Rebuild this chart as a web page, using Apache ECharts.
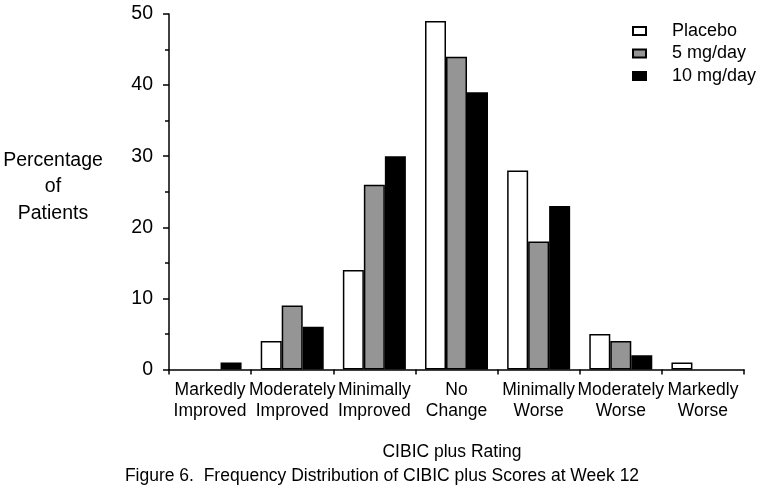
<!DOCTYPE html>
<html>
<head>
<meta charset="utf-8">
<script src="https://cdn.jsdelivr.net/npm/echarts@6/dist/echarts.min.js"></script>
<style>html,body{margin:0;padding:0;background:#fff}#c{width:761px;height:491px}</style>
</head>
<body>
<div id="c"></div>
<script>
var categories = ['Markedly Improved','Moderately Improved','Minimally Improved','No Change','Minimally Worse','Moderately Worse','Markedly Worse'];
var placebo = [0, 4, 14, 49, 28, 5, 1];
var mg5 = [0, 9, 26, 44, 18, 4, 0];
var mg10 = [1, 6, 30, 39, 23, 2, 0];
var yTicks = [0, 10, 20, 30, 40, 50];

var FONT = '"Liberation Sans", Arial, sans-serif';
var chart = echarts.init(document.getElementById('c'));
function ser(name, data, color) {
  return {
    name: name, type: 'bar', barWidth: 21, barGap: '0%',
    data: data.map(function (v) {
      return v === 0 ? { value: v, itemStyle: { borderWidth: 0 } } : v;
    }),
    itemStyle: { color: color, borderColor: '#000', borderWidth: 1.5 },
    animation: false
  };
}
chart.setOption({
  animation: false,
  backgroundColor: '#fff',
  textStyle: { fontFamily: FONT, color: '#000' },
  grid: { left: 169, right: 17, top: 14, bottom: 121.5, containLabel: false },
  legend: {
    orient: 'vertical', left: 632, top: 22, padding: 0, itemWidth: 13, itemHeight: 8, itemGap: 4.5,
    icon: 'rect',
    textStyle: { fontFamily: FONT, fontSize: 18, color: '#000', padding: [0, 0, 0, 21] },
    data: ['Placebo', '5 mg/day', '10 mg/day']
  },
  xAxis: {
    type: 'category', data: categories,
    axisLine: { lineStyle: { color: '#000', width: 1.5 } },
    axisTick: { show: true, interval: 0, length: 5, lineStyle: { color: '#000', width: 1.5 } },
    axisLabel: {
      interval: 0, margin: 10, fontFamily: FONT, fontSize: 17.5, color: '#000', lineHeight: 21,
      formatter: function (v) { return v.replace(' ', '\n'); }
    }
  },
  yAxis: {
    type: 'value', min: yTicks[0], max: yTicks[yTicks.length - 1], interval: 10,
    splitLine: { show: false },
    axisLine: { show: true, lineStyle: { color: '#000', width: 1.5 } },
    axisTick: { show: true, length: 6, lineStyle: { color: '#000', width: 1.5 } },
    minorTick: { show: true, splitNumber: 2, length: 4, lineStyle: { color: '#000', width: 1.5 } },
    axisLabel: { margin: 16, fontFamily: FONT, fontSize: 19.5, color: '#000' }
  },
  graphic: [
    { type: 'text', x: 53, y: 147, style: { text: 'Percentage\nof\nPatients', align: 'center', font: '19.5px ' + FONT, fill: '#000', lineHeight: 26.5 } },
    { type: 'text', x: 452, y: 443, style: { text: 'CIBIC plus Rating', align: 'center', font: '17.5px ' + FONT, fill: '#000' } },
    { type: 'text', x: 382, y: 467, style: { text: 'Figure 6.  Frequency Distribution of CIBIC plus Scores at Week 12', align: 'center', font: '17.5px ' + FONT, fill: '#000' } }
  ],
  series: [
    ser('Placebo', placebo, '#ffffff'),
    ser('5 mg/day', mg5, '#959595'),
    ser('10 mg/day', mg10, '#000000')
  ]
});
</script>
</body>
</html>
